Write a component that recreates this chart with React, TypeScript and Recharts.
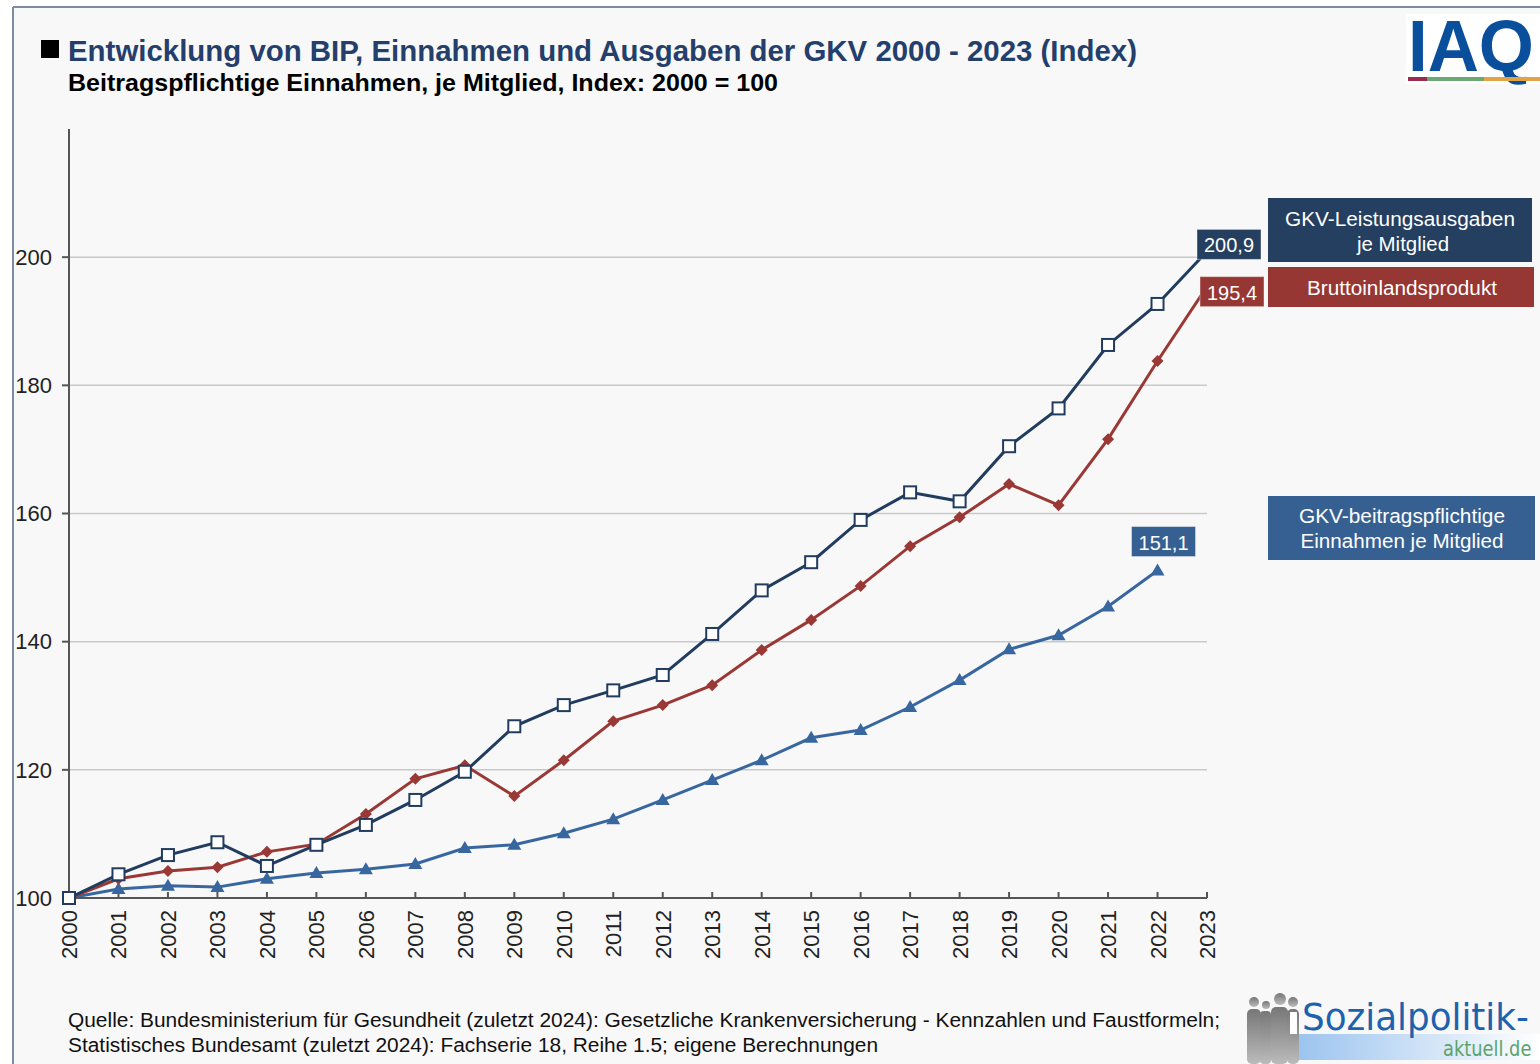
import { LineChart, Line, XAxis, YAxis, ReferenceLine, LabelList } from 'recharts';

const years = [2000, 2001, 2002, 2003, 2004, 2005, 2006, 2007, 2008, 2009, 2010, 2011, 2012, 2013, 2014, 2015, 2016, 2017, 2018, 2019, 2020, 2021, 2022, 2023];
const ausgaben = [100, 103.7, 106.7, 108.7, 105.0, 108.3, 111.4, 115.3, 119.7, 126.8, 130.1, 132.4, 134.8, 141.2, 148.0, 152.4, 159.0, 163.3, 161.9, 170.5, 176.4, 186.3, 192.7, 200.9];
const bip = [100, 103.0, 104.2, 104.8, 107.2, 108.4, 113.1, 118.6, 120.7, 115.9, 121.5, 127.6, 130.1, 133.2, 138.7, 143.4, 148.7, 154.9, 159.4, 164.6, 161.3, 171.6, 183.8, 195.4];
const einnahmen = [100, 101.4, 101.9, 101.7, 103.0, 103.9, 104.5, 105.3, 107.8, 108.3, 110.1, 112.3, 115.3, 118.4, 121.5, 125.0, 126.2, 129.8, 134.0, 138.8, 141.0, 145.5, 151.1, null];
const yTicks = [100, 120, 140, 160, 180, 200];

const data = years.map((year, i) => ({ year, ausgaben: ausgaben[i], bip: bip[i], einnahmen: einnahmen[i] }));

const NAVY = '#213c5e';
const RED = '#9a3835';
const BLUE = '#3867a0';
const FONT = '"Liberation Sans", Arial, sans-serif';

const fmt = (v: number) => v.toFixed(1).replace('.', ',');

function SquareDot({ cx, cy, index }: any) {
  if (cx == null || cy == null) return <g key={`s${index}`} />;
  return <rect key={`s${index}`} x={cx - 6} y={cy - 6} width={12} height={12} fill="#fff" stroke={NAVY} strokeWidth={2} />;
}

function DiamondDot({ cx, cy, index }: any) {
  if (cx == null || cy == null) return <g key={`d${index}`} />;
  return <polygon key={`d${index}`} points={`${cx},${cy - 6} ${cx + 6},${cy} ${cx},${cy + 6} ${cx - 6},${cy}`} fill={RED} />;
}

function TriangleDot({ cx, cy, index }: any) {
  if (cx == null || cy == null) return <g key={`t${index}`} />;
  return <polygon key={`t${index}`} points={`${cx},${cy - 7} ${cx + 7},${cy + 5} ${cx - 7},${cy + 5}`} fill={BLUE} />;
}

function endLabel(lastIndex: number, color: string, dx: number, dy: number) {
  return (props: any) => {
    const { x, y, value, index } = props;
    if (index !== lastIndex || value == null) return null;
    return (
      <g>
        <rect x={x + dx} y={y + dy} width={64} height={30} fill={color} stroke="#ffffff" strokeOpacity={0.4} />
        <text x={x + dx + 32} y={y + dy + 23} textAnchor="middle" fill="#fff" fontSize={21} fontFamily={FONT} textLength={50} lengthAdjust="spacingAndGlyphs">
          {fmt(value)}
        </text>
      </g>
    );
  };
}

function YearTick({ x, y, payload }: any) {
  return (
    <text transform={`translate(${x + 8},${y + 18}) rotate(-90)`} textAnchor="end" fontSize={22} fontFamily={FONT} fill="#222">
      {payload.value}
    </text>
  );
}

function Overlay() {
  return (
    <svg width={1540} height={1064} style={{ position: 'absolute', left: 0, top: 0, pointerEvents: 'none' }}>
      <line x1={13} y1={7} x2={1540} y2={7} stroke="#7d8ba0" strokeWidth={2} />
      <line x1={13} y1={7} x2={13} y2={1064} stroke="#7d8ba0" strokeWidth={2} />
      <rect x={41} y={40} width={18} height={18} fill="#000" />
      <text x={68} y={61} fontSize={29} fontWeight="bold" fontFamily={FONT} fill="#243f6b" textLength={1069} lengthAdjust="spacingAndGlyphs">
        Entwicklung von BIP, Einnahmen und Ausgaben der GKV 2000 - 2023 (Index)
      </text>
      <text x={68} y={91} fontSize={24} fontWeight="bold" fontFamily={FONT} fill="#000" textLength={710} lengthAdjust="spacingAndGlyphs">
        Beitragspflichtige Einnahmen, je Mitglied, Index: 2000 = 100
      </text>

      {/* IAQ logo */}
      <rect x={1406} y={14} width={134} height={70} fill="#fff" />
      <text x={1408} y={71} fontSize={72} fontWeight="bold" fontFamily={FONT} fill="#0a4f9c" textLength={126} lengthAdjust="spacingAndGlyphs">IAQ</text>
      <rect x={1408} y={77} width={19} height={4} fill="#9c2c4c" />
      <rect x={1427} y={77} width={57} height={4} fill="#6aaa72" />
      <rect x={1484} y={77} width={56} height={4} fill="#e2a246" />

      {/* legend boxes */}
      <rect x={1268} y={198} width={264} height={64} fill="#253f60" />
      <text x={1400} y={226} textAnchor="middle" fontSize={20} fontFamily={FONT} fill="#fff" textLength={230} lengthAdjust="spacingAndGlyphs">GKV-Leistungsausgaben</text>
      <text x={1403} y={251} textAnchor="middle" fontSize={20} fontFamily={FONT} fill="#fff" textLength={92} lengthAdjust="spacingAndGlyphs">je Mitglied</text>
      <rect x={1268} y={267} width={266} height={40} fill="#963734" />
      <text x={1402} y={295} textAnchor="middle" fontSize={20} fontFamily={FONT} fill="#fff" textLength={190} lengthAdjust="spacingAndGlyphs">Bruttoinlandsprodukt</text>
      <rect x={1268} y={496} width={267} height={64} fill="#376092" />
      <text x={1402} y={523} textAnchor="middle" fontSize={20} fontFamily={FONT} fill="#fff" textLength={206} lengthAdjust="spacingAndGlyphs">GKV-beitragspflichtige</text>
      <text x={1402} y={548} textAnchor="middle" fontSize={20} fontFamily={FONT} fill="#fff" textLength={203} lengthAdjust="spacingAndGlyphs">Einnahmen je Mitglied</text>

      {/* footer */}
      <text x={68} y={1027} fontSize={20} fontFamily={FONT} fill="#111" textLength={1152} lengthAdjust="spacingAndGlyphs">
        Quelle: Bundesministerium für Gesundheit (zuletzt 2024): Gesetzliche Krankenversicherung - Kennzahlen und Faustformeln;
      </text>
      <text x={68} y={1052} fontSize={20} fontFamily={FONT} fill="#111" textLength={810} lengthAdjust="spacingAndGlyphs">
        Statistisches Bundesamt (zuletzt 2024): Fachserie 18, Reihe 1.5; eigene Berechnungen
      </text>

      {/* Sozialpolitik-aktuell logo */}
      <defs>
        <linearGradient id="spbar" x1="0" x2="1" y1="0" y2="0">
          <stop offset="0" stopColor="#9cc4ef" />
          <stop offset="1" stopColor="#ffffff" />
        </linearGradient>
        <linearGradient id="people" x1="0" x2="0" y1="0" y2="1">
          <stop offset="0" stopColor="#777" />
          <stop offset="1" stopColor="#bbb" />
        </linearGradient>
      </defs>
      <rect x={1298} y={1034} width={242} height={26} fill="url(#spbar)" />
      <g fill="url(#people)">
        <circle cx={1254} cy={1002} r={5} />
        <rect x={1247} y={1009} width={14} height={55} rx={5} />
        <circle cx={1266} cy={1005} r={4} />
        <rect x={1260} y={1011} width={11} height={53} rx={4} />
        <circle cx={1280} cy={999} r={6} />
        <rect x={1271} y={1007} width={17} height={57} rx={5} />
        <circle cx={1293} cy={1002} r={5} />
        <rect x={1287} y={1009} width={12} height={55} rx={5} />
      </g>
      <rect x={1290} y={1012} width={7} height={22} fill="#fff" />
      <g transform="translate(1302,1030) scale(0.94,1)">
        <text x={0} y={0} fontSize={38} fontFamily="'DejaVu Sans', sans-serif" fill="#1d62ad">Sozialpolitik-</text>
      </g>
      <g transform="translate(1443,1056) scale(0.85,1)">
        <text x={0} y={0} fontSize={21} fontFamily="'DejaVu Sans', sans-serif" fill="#5ca36c">aktuell.de</text>
      </g>
    </svg>
  );
}

export default function App() {
  return (
    <div style={{ position: 'absolute', left: 0, top: 0, width: 1540, height: 1064, background: '#ffffff' }}>
      <div style={{ position: 'absolute', left: 14, top: 8, width: 1526, height: 1056, background: '#f8f8f8' }} />
      <div style={{ position: 'absolute', left: 0, top: 0 }}>
        <LineChart width={1540} height={1064} data={data} margin={{ top: 129, right: 333, bottom: 96, left: 9 }}>
          {yTicks.slice(1).map((t) => (
            <ReferenceLine key={t} y={t} stroke="#c9c9c9" strokeWidth={1.5} />
          ))}
          <XAxis
            dataKey="year"
            type="number"
            domain={[2000, 2023]}
            ticks={years}
            interval={0}
            height={70}
            tickSize={-6}
            tickMargin={0}
            stroke="#555"
            strokeWidth={2}
            tick={<YearTick />}
          />
          <YAxis
            domain={[100, 220]}
            ticks={yTicks}
            width={60}
            tickSize={7}
            tickMargin={10}
            stroke="#555"
            strokeWidth={2}
            tick={{ fill: '#222', fontSize: 22, fontFamily: FONT }}
          />
          <Line dataKey="einnahmen" stroke={BLUE} strokeWidth={3} dot={<TriangleDot />} activeDot={false} isAnimationActive={false} connectNulls={false}>
            <LabelList dataKey="einnahmen" content={endLabel(22, '#376092', -26, -44)} />
          </Line>
          <Line dataKey="bip" stroke={RED} strokeWidth={3} dot={<DiamondDot />} activeDot={false} isAnimationActive={false}>
            <LabelList dataKey="bip" content={endLabel(23, '#963734', -7, -10)} />
          </Line>
          <Line dataKey="ausgaben" stroke={NAVY} strokeWidth={3} dot={<SquareDot />} activeDot={false} isAnimationActive={false}>
            <LabelList dataKey="ausgaben" content={endLabel(23, '#253f60', -10, -22)} />
          </Line>
        </LineChart>
      </div>
      <Overlay />
    </div>
  );
}
